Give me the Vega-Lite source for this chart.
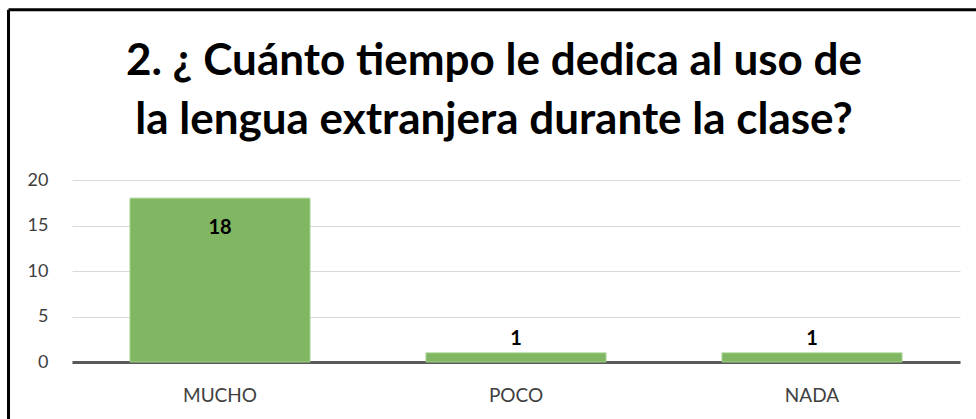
{
  "$schema": "https://vega.github.io/schema/vega-lite/v6.json",
  "width": 888,
  "height": 182,
  "autosize": {"type": "none"},
  "padding": {"left": 72, "top": 180, "right": 16, "bottom": 57},
  "background": "white",
  "config": {"view": {"stroke": null}},
  "title": {
    "text": ["2. ¿ Cuánto tiempo le dedica al uso de", "la lengua extranjera durante la clase?"],
    "font": "Lato",
    "fontSize": 44,
    "fontWeight": "bold",
    "color": "#000000",
    "lineHeight": 59,
    "baseline": "alphabetic",
    "anchor": "middle",
    "frame": "group",
    "dx": -22,
    "offset": -170
  },
  "layer": [
    {
      "data": {"values": [
        {"categoria": "MUCHO", "valor": 18},
        {"categoria": "POCO", "valor": 1},
        {"categoria": "NADA", "valor": 1}
      ]},
      "encoding": {
        "x": {
          "field": "categoria", "type": "nominal", "sort": null,
          "scale": {"paddingInner": 0.392, "paddingOuter": 0.196},
          "axis": {
            "title": null, "labelAngle": 0, "ticks": false,
            "labelFont": "Lato", "labelFontSize": 19, "labelColor": "#404040",
            "labelPadding": 24, "domainColor": "#595959", "domainWidth": 3, "grid": false
          }
        },
        "y": {
          "field": "valor", "type": "quantitative",
          "scale": {"domain": [0, 20], "nice": false, "zero": true},
          "axis": {
            "title": null, "values": [0, 5, 10, 15, 20], "ticks": false, "domain": false,
            "labelFont": "Lato", "labelFontSize": 18, "labelColor": "#404040",
            "labelPadding": 24, "grid": true, "gridColor": "#D9D9D9", "gridWidth": 1
          }
        }
      },
      "layer": [
        {"mark": {"type": "bar", "fill": "#81B663", "stroke": "#A3CF88", "strokeWidth": 1}},
        {
          "transform": [{"filter": "datum.valor > 5"}],
          "mark": {"type": "text", "font": "Lato", "fontSize": 20, "fontWeight": "bold", "color": "#000000", "baseline": "alphabetic", "dy": 36},
          "encoding": {"text": {"field": "valor", "type": "quantitative"}}
        },
        {
          "transform": [{"filter": "datum.valor <= 5"}],
          "mark": {"type": "text", "font": "Lato", "fontSize": 20, "fontWeight": "bold", "color": "#000000", "baseline": "alphabetic", "dy": -8},
          "encoding": {"text": {"field": "valor", "type": "quantitative"}}
        }
      ]
    },
    {
      "data": {"values": [{}]},
      "layer": [
        {
          "mark": {"type": "rule", "color": "#000000", "strokeWidth": 3},
          "encoding": {
            "x": {"datum": -0.0715, "type": "quantitative", "scale": {"domain": [0, 1]}, "axis": null},
            "y": {"datum": 38.7, "type": "quantitative"},
            "y2": {"datum": -8}
          }
        },
        {
          "mark": {"type": "rule", "color": "#000000", "strokeWidth": 3},
          "encoding": {
            "x": {"datum": -0.0715, "type": "quantitative", "scale": {"domain": [0, 1]}, "axis": null},
            "x2": {"datum": 1.2},
            "y": {"datum": 38.7, "type": "quantitative"}
          }
        }
      ]
    }
  ],
  "resolve": {"scale": {"x": "independent"}, "axis": {"x": "independent"}}
}
